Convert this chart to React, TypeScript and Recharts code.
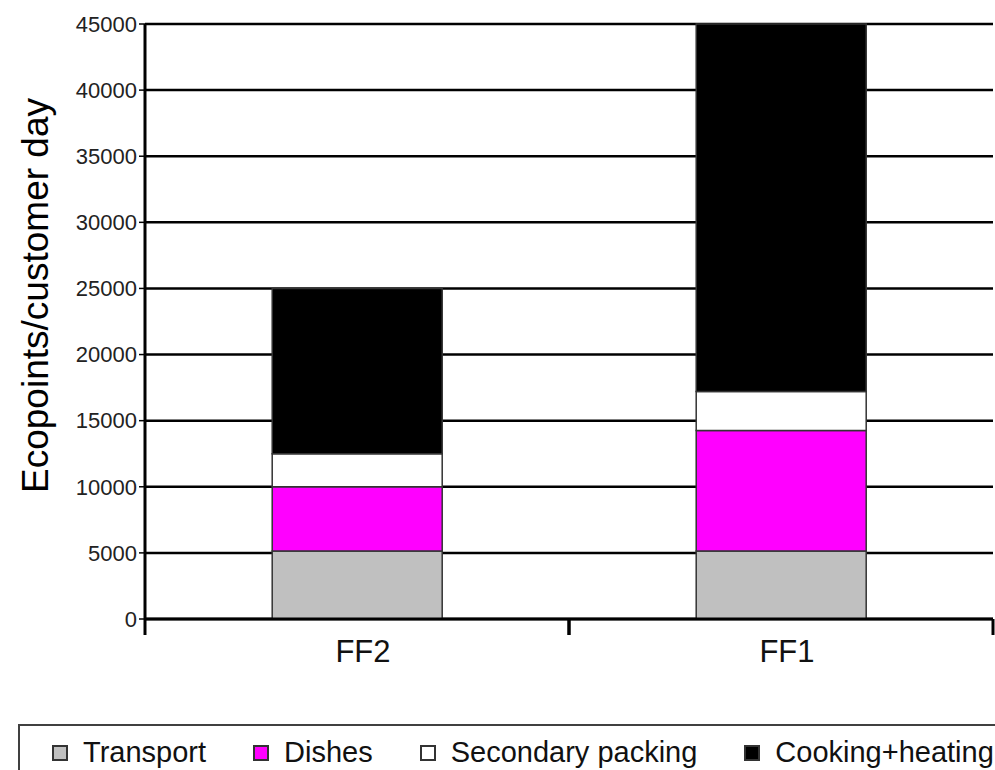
import React from 'react';
import { BarChart, Bar, XAxis, YAxis, CartesianGrid, Label } from 'recharts';

const categories = ['FF2', 'FF1'];
const transport = [5150, 5150];
const dishes = [4850, 9100];
const secondaryPacking = [2500, 2950];
const cookingHeating = [12500, 27800];
const yTicks = [0, 5000, 10000, 15000, 20000, 25000, 30000, 35000, 40000, 45000];
const seriesKeys = ['transport', 'dishes', 'secondary', 'cooking'];
const seriesNames = ['Transport', 'Dishes', 'Secondary packing', 'Cooking+heating'];
const seriesColors = ['#C0C0C0', '#FF00FF', '#FFFFFF', '#000000'];
const yLabelText = 'Ecopoints/customer day';

const data = categories.map((name, i) => ({
  name,
  transport: transport[i],
  dishes: dishes[i],
  secondary: secondaryPacking[i],
  cooking: cookingHeating[i],
}));

const FONT = '"Liberation Sans", Arial, sans-serif';

const YLabel = (props: any) => {
  const vb = props.viewBox || { x: 0, y: 24, width: 145, height: 595 };
  const cx = vb.x + 48;
  const cy = vb.y + vb.height / 2 - 26;
  return (
    <text
      x={cx}
      y={cy}
      transform={`rotate(-90 ${cx} ${cy})`}
      textAnchor="middle"
      fontSize={37}
      fontFamily={FONT}
      fill="#000"
      textLength={395}
      lengthAdjust="spacingAndGlyphs"
    >
      {yLabelText}
    </text>
  );
};

// Category tick: label at band centre plus tick marks at the band boundaries
const CatTick = (props: any) => {
  const { x, y, payload } = props;
  const half = payload && payload.offset ? payload.offset : 0;
  return (
    <g>
      <line x1={x - half} y1={y} x2={x - half} y2={y + 16} stroke="#000" strokeWidth={3} />
      <line x1={x + half} y1={y} x2={x + half} y2={y + 16} stroke="#000" strokeWidth={3} />
      <text x={x + 6} y={y + 21} dy="0.71em" textAnchor="middle" fontSize={31} fill="#111" fontFamily={FONT}>
        {payload.value}
      </text>
    </g>
  );
};

export default function App() {
  return (
    <div
      style={{
        position: 'absolute',
        left: 0,
        top: 0,
        width: 995,
        height: 770,
        overflow: 'hidden',
        background: '#fff',
        fontFamily: FONT,
      }}
    >
      <BarChart
        width={995}
        height={770}
        data={data}
        margin={{ top: 24, right: 2, left: 0, bottom: 90 }}
        barCategoryGap="30%"
      >
        <CartesianGrid vertical={false} stroke="#000" strokeWidth={2.5} />
        <XAxis
          dataKey="name"
          height={61}
          interval={0}
          axisLine={{ stroke: '#000', strokeWidth: 3 }}
          tickLine={false}
          tickSize={0}
          tickMargin={0}
          tick={<CatTick />}
        />
        <YAxis
          domain={[0, 45000]}
          ticks={yTicks}
          width={145}
          interval={0}
          tickSize={6}
          tickMargin={2}
          axisLine={{ stroke: '#000', strokeWidth: 3 }}
          tickLine={{ stroke: '#000', strokeWidth: 1.5 }}
          tick={{ fontSize: 22, fill: '#222', fontFamily: FONT }}
        >
          <Label content={YLabel} />
        </YAxis>
        {seriesKeys.map((k, i) => (
          <Bar
            key={k}
            dataKey={k}
            name={seriesNames[i]}
            stackId="a"
            fill={seriesColors[i]}
            stroke="#333"
            strokeWidth={1.5}
            isAnimationActive={false}
          />
        ))}
      </BarChart>
      <div
        style={{
          position: 'absolute',
          left: 18,
          top: 724,
          width: 1000,
          height: 70,
          border: '2px solid #404040',
          boxSizing: 'border-box',
          background: '#fff',
          display: 'flex',
          alignItems: 'flex-start',
          paddingLeft: 32,
          paddingTop: 10,
        }}
      >
        {seriesNames.map((n, i) => (
          <div
            key={n}
            style={{ display: 'flex', alignItems: 'center', marginRight: 47, whiteSpace: 'nowrap' }}
          >
            <div
              style={{
                width: 16,
                height: 16,
                boxSizing: 'border-box',
                border: '2px solid #333',
                background: seriesColors[i],
                marginRight: 15,
                flexShrink: 0,
              }}
            />
            <span style={{ fontSize: 29, color: '#111', lineHeight: 'normal' }}>{n}</span>
          </div>
        ))}
      </div>
    </div>
  );
}
